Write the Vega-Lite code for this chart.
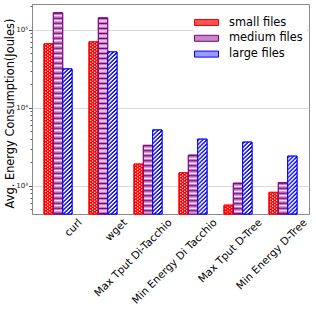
{
  "$schema": "https://vega.github.io/schema/vega-lite/v6.json",
  "width": 277,
  "height": 210,
  "autosize": {"type": "none"},
  "padding": {"left": 32, "top": 4, "right": 7, "bottom": 113},
  "config": {
    "font": "DejaVu Sans",
    "view": {"stroke": "#8a8a8a", "strokeWidth": 1}
  },
  "data": {
    "values": [
      {"method": "curl", "size": "small files", "energy": 66000},
      {"method": "curl", "size": "medium files", "energy": 165000},
      {"method": "curl", "size": "large files", "energy": 31500},
      {"method": "wget", "size": "small files", "energy": 70000},
      {"method": "wget", "size": "medium files", "energy": 142000},
      {"method": "wget", "size": "large files", "energy": 52000},
      {"method": "Max Tput Di-Tacchio", "size": "small files", "energy": 1900},
      {"method": "Max Tput Di-Tacchio", "size": "medium files", "energy": 3300},
      {"method": "Max Tput Di-Tacchio", "size": "large files", "energy": 5200},
      {"method": "Min Energy Di Tacchio", "size": "small files", "energy": 1470},
      {"method": "Min Energy Di Tacchio", "size": "medium files", "energy": 2470},
      {"method": "Min Energy Di Tacchio", "size": "large files", "energy": 3960},
      {"method": "Max Tput D-Tree", "size": "small files", "energy": 565},
      {"method": "Max Tput D-Tree", "size": "medium files", "energy": 1080},
      {"method": "Max Tput D-Tree", "size": "large files", "energy": 3630},
      {"method": "Min Energy D-Tree", "size": "small files", "energy": 825},
      {"method": "Min Energy D-Tree", "size": "medium files", "energy": 1095},
      {"method": "Min Energy D-Tree", "size": "large files", "energy": 2400}
    ]
  },
  "encoding": {
    "x": {
      "field": "method", "type": "nominal",
      "sort": ["curl", "wget", "Max Tput Di-Tacchio", "Min Energy Di Tacchio", "Max Tput D-Tree", "Min Energy D-Tree"],
      "scale": {"paddingInner": 0.378, "paddingOuter": 0.267},
      "axis": {
        "title": null, "labelAngle": -45, "labelAlign": "right", "labelBaseline": "top",
        "labelOffset": 19, "labelPadding": 3, "ticks": false, "tickSize": 0,
        "labelFontSize": 10.5, "labelColor": "#000000", "domainColor": "#8a8a8a", "grid": false
      }
    },
    "y": {
      "field": "energy", "type": "quantitative",
      "scale": {"type": "log", "domain": [435, 214000], "nice": false},
      "axis": {
        "title": "Avg. Energy Consumption(Joules)",
        "values": [500, 600, 700, 800, 900, 1000, 2000, 3000, 4000, 5000, 6000, 7000, 8000, 9000, 10000, 20000, 30000, 40000, 50000, 60000, 70000, 80000, 90000, 100000, 200000],
        "labelExpr": "datum.value == 1000 ? '10³' : datum.value == 10000 ? '10⁴' : datum.value == 100000 ? '10⁵' : ''",
        "labelFontSize": 7, "labelColor": "#222222", "labelPadding": 1,
        "labelOverlap": false, "labelFlush": false, "labelBound": false,
        "tickSize": {"condition": {"test": "datum.value == 1000 || datum.value == 10000 || datum.value == 100000", "value": 3.5}, "value": 2},
        "tickColor": "#555555",
        "grid": true, "gridColor": "#d9d9d9",
        "gridOpacity": {"condition": {"test": "datum.value == 1000 || datum.value == 10000 || datum.value == 100000", "value": 1}, "value": 0},
        "domainColor": "#8a8a8a",
        "titleFontSize": 11.4, "titleFontWeight": "normal", "titleColor": "#000000",
        "titleX": -19, "titleY": 109, "titleBaseline": "alphabetic", "titleAlign": "center", "titleAngle": 270
      }
    }
  },
  "resolve": {"scale": {"fill": "independent"}, "legend": {"fill": "independent", "stroke": "independent"}},
  "layer": [
    {
      "mark": {"type": "bar", "strokeWidth": 1},
      "encoding": {
        "xOffset": {"field": "size", "type": "nominal", "sort": ["small files", "medium files", "large files"], "scale": {"paddingInner": 0, "paddingOuter": 0}},
        "y2": {"datum": 435},
        "fill": {
          "field": "size", "type": "nominal",
          "scale": {"domain": ["small files", "medium files", "large files"], "range": ["#ff5252", "#c488c4", "#9a9aff"]},
          "legend": {
            "title": null, "orient": "none", "legendX": 162, "legendY": 6, "padding": 4,
            "fillColor": "#ffffff", "strokeColor": null, "zindex": 2,
            "symbolType": "M-1.5,-0.375H1.5V0.375H-1.5Z", "symbolSize": 256, "symbolStrokeWidth": 1,
            "labelFontSize": 11.4, "labelColor": "#000000", "labelOffset": 14, "rowPadding": 1.8
          }
        },
        "stroke": {
          "field": "size", "type": "nominal",
          "scale": {"domain": ["small files", "medium files", "large files"], "range": ["#ff0000", "#800080", "#0000ff"]},
          "legend": {
            "title": null, "orient": "none", "legendX": 162, "legendY": 6, "padding": 4,
            "fillColor": "#ffffff", "strokeColor": null, "zindex": 2,
            "symbolType": "M-1.5,-0.375H1.5V0.375H-1.5Z", "symbolSize": 256, "symbolStrokeWidth": 1,
            "labelFontSize": 11.4, "labelColor": "#000000", "labelOffset": 14, "rowPadding": 1.8
          }
        }
      }
    },
    {
      "mark": {"type": "bar"},
      "encoding": {
        "xOffset": {"field": "size", "type": "nominal", "sort": ["small files", "medium files", "large files"]},
        "y2": {"datum": 435},
        "fill": {
          "field": "size", "type": "nominal",
          "scale": {"domain": ["small files", "medium files", "large files"], "range": ["#ff0000", "#c080c0", "#ffffff"]},
          "legend": null
        }
      }
    },
    {"transform": [{"filter": "datum.size == 'small files'"}], "mark": {"type": "rule", "color": "#ffffff", "strokeWidth": 1.1, "strokeDash": [1.2, 1.8], "strokeDashOffset": 0}, "encoding": {"y2": {"datum": 435}, "x": {"field": "method", "type": "nominal", "bandPosition": 0.06}}},
    {"transform": [{"filter": "datum.size == 'small files'"}], "mark": {"type": "rule", "color": "#ffffff", "strokeWidth": 1.1, "strokeDash": [1.2, 1.8], "strokeDashOffset": 1.5}, "encoding": {"y2": {"datum": 435}, "x": {"field": "method", "type": "nominal", "bandPosition": 0.13}}},
    {"transform": [{"filter": "datum.size == 'small files'"}], "mark": {"type": "rule", "color": "#ffffff", "strokeWidth": 1.1, "strokeDash": [1.2, 1.8], "strokeDashOffset": 0}, "encoding": {"y2": {"datum": 435}, "x": {"field": "method", "type": "nominal", "bandPosition": 0.203}}},
    {"transform": [{"filter": "datum.size == 'small files'"}], "mark": {"type": "rule", "color": "#ffffff", "strokeWidth": 1.1, "strokeDash": [1.2, 1.8], "strokeDashOffset": 1.5}, "encoding": {"y2": {"datum": 435}, "x": {"field": "method", "type": "nominal", "bandPosition": 0.273}}},
    {"transform": [{"filter": "datum.size == 'medium files'"}], "mark": {"type": "rule", "color": "#800080", "strokeWidth": 8.3, "strokeDash": [1, 4], "strokeDashOffset": 0}, "encoding": {"y2": {"datum": 435}, "x": {"field": "method", "type": "nominal", "bandPosition": 0.5}}},
    {"transform": [{"filter": "datum.size == 'medium files'"}], "mark": {"type": "rule", "color": "#ffffff", "strokeWidth": 8.3, "strokeDash": [1, 4], "strokeDashOffset": 2.5}, "encoding": {"y2": {"datum": 435}, "x": {"field": "method", "type": "nominal", "bandPosition": 0.5}}},
    {"transform": [{"filter": "datum.size == 'large files'"}], "mark": {"type": "rule", "color": "#0000ff", "strokeWidth": 1.05, "strokeDash": [2, 2], "strokeDashOffset": 0}, "encoding": {"y2": {"datum": 435}, "x": {"field": "method", "type": "nominal", "bandPosition": 0.6852}}},
    {"transform": [{"filter": "datum.size == 'large files'"}], "mark": {"type": "rule", "color": "#0000ff", "strokeWidth": 1.05, "strokeDash": [2, 2], "strokeDashOffset": 1}, "encoding": {"y2": {"datum": 435}, "x": {"field": "method", "type": "nominal", "bandPosition": 0.7222}}},
    {"transform": [{"filter": "datum.size == 'large files'"}], "mark": {"type": "rule", "color": "#0000ff", "strokeWidth": 1.05, "strokeDash": [2, 2], "strokeDashOffset": 2}, "encoding": {"y2": {"datum": 435}, "x": {"field": "method", "type": "nominal", "bandPosition": 0.7593}}},
    {"transform": [{"filter": "datum.size == 'large files'"}], "mark": {"type": "rule", "color": "#0000ff", "strokeWidth": 1.05, "strokeDash": [2, 2], "strokeDashOffset": 3}, "encoding": {"y2": {"datum": 435}, "x": {"field": "method", "type": "nominal", "bandPosition": 0.7963}}},
    {"transform": [{"filter": "datum.size == 'large files'"}], "mark": {"type": "rule", "color": "#0000ff", "strokeWidth": 1.05, "strokeDash": [2, 2], "strokeDashOffset": 4}, "encoding": {"y2": {"datum": 435}, "x": {"field": "method", "type": "nominal", "bandPosition": 0.8333}}},
    {"transform": [{"filter": "datum.size == 'large files'"}], "mark": {"type": "rule", "color": "#0000ff", "strokeWidth": 1.05, "strokeDash": [2, 2], "strokeDashOffset": 5}, "encoding": {"y2": {"datum": 435}, "x": {"field": "method", "type": "nominal", "bandPosition": 0.8704}}},
    {"transform": [{"filter": "datum.size == 'large files'"}], "mark": {"type": "rule", "color": "#0000ff", "strokeWidth": 1.05, "strokeDash": [2, 2], "strokeDashOffset": 6}, "encoding": {"y2": {"datum": 435}, "x": {"field": "method", "type": "nominal", "bandPosition": 0.9074}}},
    {"transform": [{"filter": "datum.size == 'large files'"}], "mark": {"type": "rule", "color": "#0000ff", "strokeWidth": 1.05, "strokeDash": [2, 2], "strokeDashOffset": 7}, "encoding": {"y2": {"datum": 435}, "x": {"field": "method", "type": "nominal", "bandPosition": 0.9444}}},
    {"transform": [{"filter": "datum.size == 'large files'"}], "mark": {"type": "rule", "color": "#0000ff", "strokeWidth": 1.05, "strokeDash": [2, 2], "strokeDashOffset": 8}, "encoding": {"y2": {"datum": 435}, "x": {"field": "method", "type": "nominal", "bandPosition": 0.9815}}},
    {
      "mark": {"type": "bar", "filled": false, "strokeWidth": 1},
      "encoding": {
        "xOffset": {"field": "size", "type": "nominal", "sort": ["small files", "medium files", "large files"]},
        "y2": {"datum": 435},
        "stroke": {"field": "size", "type": "nominal", "legend": null}
      }
    }
  ]
}
